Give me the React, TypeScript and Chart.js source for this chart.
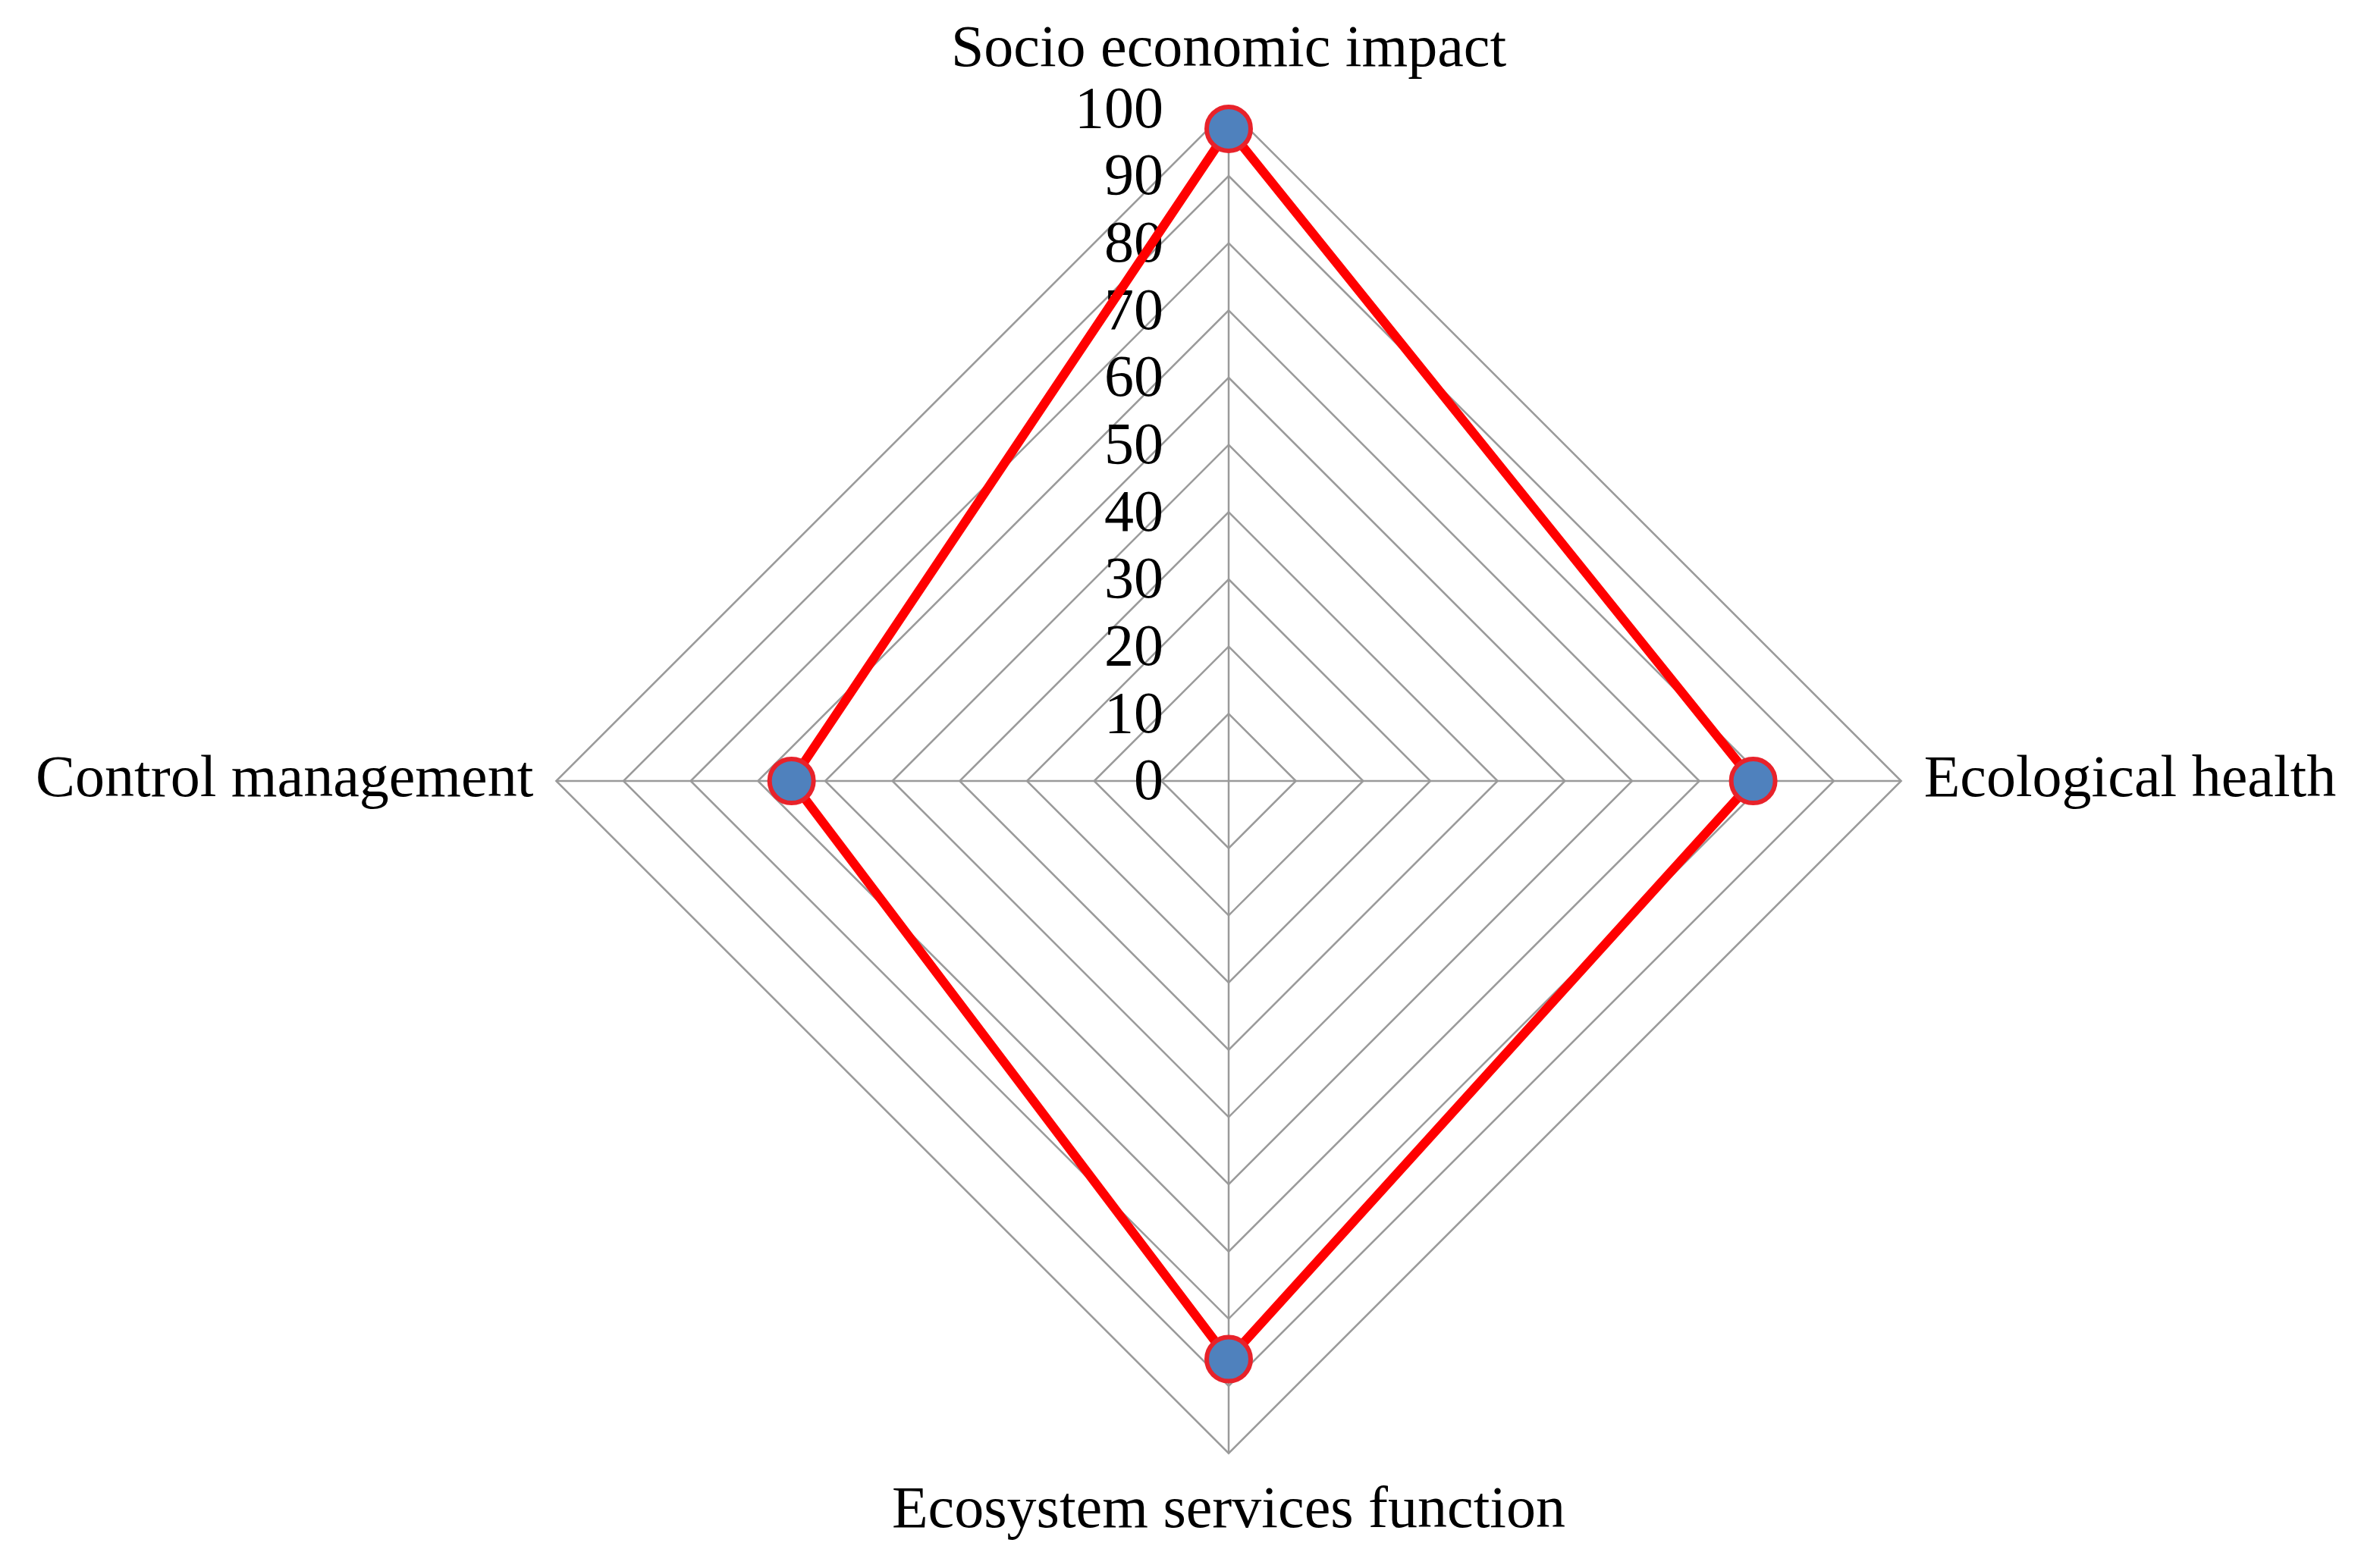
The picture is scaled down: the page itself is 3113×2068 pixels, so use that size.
import React, { useEffect, useRef } from "react";
import { Chart, registerables } from "chart.js";

Chart.register(...registerables);

const categories = [
  "Socio economic impact",
  "Ecological health",
  "Ecosystem services function",
  "Control management",
];
const values = [97, 78, 86, 65];
const tickValues = [0, 10, 20, 30, 40, 50, 60, 70, 80, 90, 100];

const FONT = "'Liberation Serif', 'Times New Roman', serif";

const tickLabelPlugin = {
  id: "leftTickLabels",
  beforeDatasetsDraw(chart: any) {
    const scale = chart.scales.r;
    const ctx = chart.ctx;
    ctx.save();
    ctx.font = `78px ${FONT}`;
    ctx.fillStyle = "#000000";
    ctx.textAlign = "right";
    ctx.textBaseline = "middle";
    for (const v of tickValues) {
      const d = scale.getDistanceFromCenterForValue(v);
      ctx.fillText(String(v), scale.xCenter - 86, scale.yCenter - d + 4);
    }
    ctx.restore();
  },
};

export default function App() {
  const ref = useRef<HTMLCanvasElement | null>(null);
  useEffect(() => {
    if (!ref.current) return;
    const chart = new Chart(ref.current, {
      type: "radar",
      data: {
        labels: categories,
        datasets: [
          {
            data: values,
            borderColor: "#FF0000",
            borderWidth: 12,
            backgroundColor: "rgba(0,0,0,0)",
            fill: false,
            pointRadius: 29,
            pointBorderWidth: 6,
            pointBackgroundColor: "#4F81BD",
            pointBorderColor: "#E8222A",
          },
        ],
      },
      options: {
        animation: false,
        responsive: true,
        maintainAspectRatio: false,
        layout: { padding: 0 },
        plugins: { legend: { display: false }, tooltip: { enabled: false } },
        scales: {
          r: {
            min: 0,
            max: 100,
            beginAtZero: true,
            ticks: { stepSize: 10, display: false },
            grid: { color: "#9A9A9A", lineWidth: 2.5 },
            angleLines: { color: "#9A9A9A", lineWidth: 2.5 },
            pointLabels: {
              font: { family: FONT, size: 78 },
              color: "#000000",
              padding: 30,
            },
          },
        },
      },
      plugins: [tickLabelPlugin],
    });
    return () => chart.destroy();
  }, []);
  return (
    <div style={{ position: "relative", width: "3097px", height: "2052px", overflow: "hidden", background: "#fff" }}>
      <div style={{ position: "absolute", left: "-17px", top: "-4px", width: "3147px", height: "2052px" }}>
        <canvas ref={ref} />
      </div>
    </div>
  );
}
